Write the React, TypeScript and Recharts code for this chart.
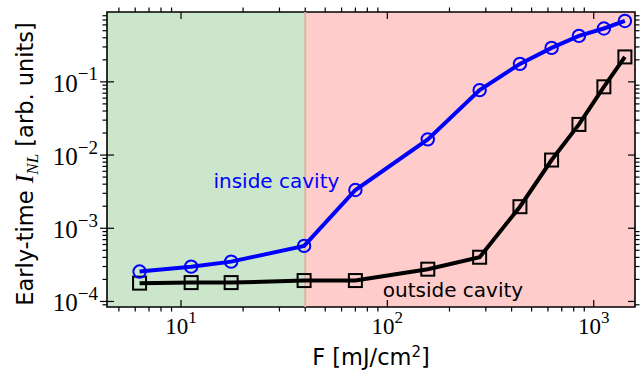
import React from 'react';
import { LineChart, Line, XAxis, YAxis, ReferenceArea, ReferenceLine, ReferenceDot } from 'recharts';

// fluence (mJ/cm^2) and early-time nonlinear signal for both configurations
const fluence = [6.3, 11.2, 17.5, 39.5, 70, 157, 280, 439, 625, 848, 1120, 1416];
const insideCavity = [2.56e-4, 2.99e-4, 3.5e-4, 5.74e-4, 3.33e-3, 1.64e-2, 7.7e-2, 0.176, 0.291, 0.425, 0.536, 0.679];
const outsideCavity = [1.78e-4, 1.81e-4, 1.81e-4, 1.93e-4, 1.93e-4, 2.76e-4, 4.02e-4, 1.97e-3, 8.55e-3, 2.62e-2, 8.55e-2, 0.219];

const xMajor = [10, 100, 1000];
const xMinor = [5, 6, 7, 8, 9, 20, 30, 40, 50, 60, 70, 80, 90, 200, 300, 400, 500, 600, 700, 800, 900];
const yMajor = [1e-4, 1e-3, 1e-2, 1e-1];
const yMinor = [
  9e-5,
  2e-4, 3e-4, 4e-4, 5e-4, 6e-4, 7e-4, 8e-4, 9e-4,
  2e-3, 3e-3, 4e-3, 5e-3, 6e-3, 7e-3, 8e-3, 9e-3,
  2e-2, 3e-2, 4e-2, 5e-2, 6e-2, 7e-2, 8e-2, 9e-2,
  0.2, 0.3, 0.4, 0.5, 0.6, 0.7, 0.8,
];

const xDomain = [4.38, 1585];
const yDomain = [8.4e-5, 0.9];
const threshold = 40;

const data = fluence.map((f, i) => ({ f, inside: insideCavity[i], outside: outsideCavity[i] }));

const W = 644;
const H = 374;
const M = { top: 12, right: 9, bottom: 0, left: 0 };
const Y_AXIS_W = 107;
const X_AXIS_H = 67;
const PLOT_TOP = M.top;
const PLOT_RIGHT = W - M.right;

const SANS = '"DejaVu Sans", sans-serif';
const SERIF = '"Liberation Serif", serif';

const isMajor = (v: number) => Math.abs(Math.log10(v) - Math.round(Math.log10(v))) < 1e-6;
const expText = (v: number) => {
  const e = Math.round(Math.log10(v));
  return e < 0 ? `\u2212${-e}` : `${e}`;
};

// ticks on both opposite spines: major ones point in, minor ones point out
const XTick = (props: any) => {
  const { x, y, payload } = props;
  const major = isMajor(payload.value);
  return (
    <g>
      <line x1={x} x2={x} y1={y} y2={major ? y - 7 : y + 4.5} stroke="#000" strokeWidth={1.2} />
      <line x1={x} x2={x} y1={PLOT_TOP} y2={major ? PLOT_TOP + 7 : PLOT_TOP - 4.5} stroke="#000" strokeWidth={1.2} />
      {major && (
        <text x={x} y={y + 27} textAnchor="middle" fontFamily={SERIF} fontSize={23} fill="#000">
          10
          <tspan dy={-11} fontSize={17}>{expText(payload.value)}</tspan>
        </text>
      )}
    </g>
  );
};

const YTick = (props: any) => {
  const { x, y, payload } = props;
  const major = isMajor(payload.value);
  return (
    <g>
      <line x1={major ? x - 7 : x - 4.5} x2={major ? x + 7 : x} y1={y} y2={y} stroke="#000" strokeWidth={1.2} />
      <line x1={PLOT_RIGHT} x2={major ? PLOT_RIGHT - 7 : PLOT_RIGHT + 4.5} y1={y} y2={y} stroke="#000" strokeWidth={1.2} />
      {major && (
        <text x={x - 9} y={y + 10} textAnchor="end" fontFamily={SERIF} fontSize={25} fill="#000">
          10
          <tspan dy={-11.5} fontSize={19}>{expText(payload.value)}</tspan>
        </text>
      )}
    </g>
  );
};

const SquareDot = (props: any) => {
  const { cx, cy, index } = props;
  if (cx == null || cy == null) return null;
  return <rect key={`sq-${index}`} x={cx - 6.5} y={cy - 6.5} width={13} height={13} fill="none" stroke="#000" strokeWidth={2} />;
};

const XLabel = (props: any) => {
  const vb = props.viewBox || { x: Y_AXIS_W, y: H - X_AXIS_H, width: PLOT_RIGHT - Y_AXIS_W, height: X_AXIS_H };
  const cx = vb.x + vb.width / 2;
  return (
    <text x={cx} y={vb.y + 58} textAnchor="middle" fontFamily={SANS} fontSize={22.5} fill="#000">
      F [mJ/cm
      <tspan dy={-8} fontSize={15}>2</tspan>
      <tspan dy={8}>]</tspan>
    </text>
  );
};

const YLabel = () => {
  const cx = 33;
  const cy = 164;
  return (
    <text x={cx} y={cy} transform={`rotate(-90, ${cx}, ${cy})`} textAnchor="middle" fontFamily={SANS} fontSize={22.5} fill="#000">
      Early-time{' '}
      <tspan fontFamily={SERIF} fontStyle="italic" fontSize={26}>I</tspan>
      <tspan fontFamily={SERIF} fontStyle="italic" fontSize={17} dy={5}>NL</tspan>
      <tspan dy={-5}> [arb. units]</tspan>
    </text>
  );
};

export default function App() {
  return (
    <div style={{ position: 'absolute', left: 0, top: 0, width: W, height: H, background: '#fff' }}>
      <LineChart width={W} height={H} data={data} margin={M}>
        <XAxis
          dataKey="f"
          type="number"
          scale="log"
          domain={xDomain}
          allowDataOverflow
          ticks={[...xMajor, ...xMinor]}
          interval={0}
          tick={<XTick />}
          tickLine={false}
          axisLine={false}
          tickSize={0}
          tickMargin={0}
          height={X_AXIS_H}
          label={{ content: <XLabel /> }}
        />
        <YAxis
          type="number"
          scale="log"
          domain={yDomain}
          allowDataOverflow
          ticks={[...yMajor, ...yMinor]}
          interval={0}
          tick={<YTick />}
          tickLine={false}
          axisLine={false}
          tickSize={0}
          tickMargin={0}
          width={Y_AXIS_W}
          label={{ content: <YLabel /> }}
        />
        <ReferenceArea x1={xDomain[0]} x2={threshold} fill="#008000" fillOpacity={0.2} stroke="none" ifOverflow="hidden" />
        <ReferenceArea x1={threshold} x2={xDomain[1]} fill="#ff0000" fillOpacity={0.2} stroke="none" ifOverflow="hidden" />
        <ReferenceLine x={threshold} stroke="rgb(214,184,163)" strokeWidth={2} />
        <Line
          dataKey="outside"
          stroke="#000"
          strokeWidth={4}
          dot={<SquareDot />}
          isAnimationActive={false}
        />
        <Line
          dataKey="inside"
          stroke="#0000ff"
          strokeWidth={4}
          dot={{ r: 6.2, stroke: '#0000ff', strokeWidth: 2, fill: 'none' }}
          isAnimationActive={false}
        />
        <ReferenceDot
          x={29}
          y={4.41e-3}
          r={0}
          stroke="none"
          label={{ value: 'inside cavity', position: 'center', fill: '#0000ff', fontSize: 20, fontFamily: SANS }}
        />
        <ReferenceDot
          x={208}
          y={1.42e-4}
          r={0}
          stroke="none"
          label={{ value: 'outside cavity', position: 'center', fill: '#000', fontSize: 20, fontFamily: SANS }}
        />
        <ReferenceArea
          x1={xDomain[0]}
          x2={xDomain[1]}
          y1={yDomain[0]}
          y2={yDomain[1]}
          fill="none"
          stroke="#000"
          strokeWidth={1.6}
        />
      </LineChart>
    </div>
  );
}
